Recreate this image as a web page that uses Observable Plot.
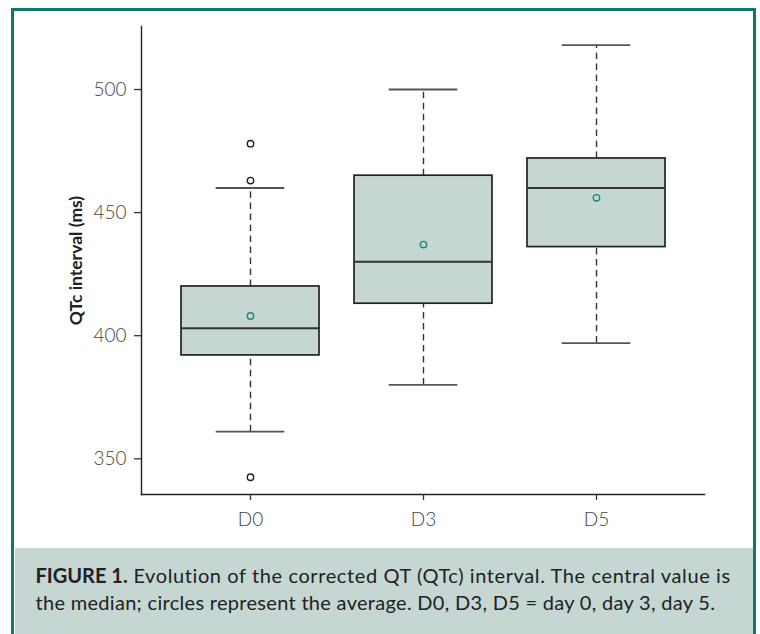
<!DOCTYPE html>
<html>
<head>
<meta charset="utf-8">
<script src="https://cdn.jsdelivr.net/npm/d3@7"></script>
<script src="https://cdn.jsdelivr.net/npm/@observablehq/plot@0.6"></script>
<style>
  html, body { margin: 0; padding: 0; background: #fff; }
  body { width: 760px; height: 634px; overflow: hidden; position: relative; }
  #frame { position: absolute; left: 11px; top: 8px; width: 745px; height: 700px;
           border: 3.5px solid #0d7a69; box-sizing: border-box; }
  #chart { position: absolute; left: 0; top: 0; }
  #caption { position: absolute; left: 14.5px; top: 548px; width: 738px; height: 100px;
             background: #c5d6d3; box-sizing: border-box; padding: 14px 0 0 21px;
             font-family: Lato, sans-serif; font-size: 20px; letter-spacing: 0.6px; line-height: 27px; color: #222; white-space: nowrap; }
  #caption b { font-weight: 700; letter-spacing: 0; }
  #caption .l2 { letter-spacing: 0.3px; }
  g[aria-label="y-axis tick label"] text, g[aria-label="x-axis tick label"] text { font-weight: 300; fill: #444; }
</style>
</head>
<body>
<div id="frame"></div>
<div id="chart"></div>
<div id="caption"><b>FIGURE 1.</b> Evolution of the corrected QT (QTc) interval. The central value is<br><span class="l2">the median; circles represent the average. D0, D3, D5 = day 0, day 3, day 5.</span></div>
<script>
const days = ["D0", "D3", "D5"];
const lowerWhisker = [361, 380, 397];
const q1 = [392, 413, 436];
const median = [403, 430, 460];
const q3 = [420, 465, 472];
const upperWhisker = [460, 500, 518];
const mean = [408, 437, 456];
const outlierDay = ["D0", "D0", "D0"];
const outlierValue = [478, 463, 342.5];
const yTicks = [350, 400, 450, 500];
const yLabel = "QTc interval (ms)";

const stats = days.map((d, i) => ({
  day: d, lo: lowerWhisker[i], q1: q1[i], med: median[i], q3: q3[i], hi: upperWhisker[i], mean: mean[i]
}));
const outliers = outlierDay.map((d, i) => ({day: d, v: outlierValue[i]}));

const chart = Plot.plot({
  width: 760,
  height: 548,
  marginTop: 26,
  marginBottom: 54,
  marginLeft: 141,
  marginRight: 56,
  style: {fontFamily: "Lato, sans-serif", fontSize: "19px", color: "#444", background: "transparent"},
  x: {type: "band", domain: days, range: [163.3, 683.5], paddingInner: 0.2, paddingOuter: 0.1},
  y: {domain: [335.5, 525.6]},
  marks: [
    Plot.frame({anchor: "left", stroke: "#222", strokeWidth: 1.4}),
    Plot.frame({anchor: "bottom", stroke: "#222", strokeWidth: 1.4}),
    Plot.axisY({ticks: yTicks, tickSize: 7, tickPadding: 8, stroke: "#333", strokeWidth: 1.3, strokeOpacity: 1, label: null}),
    Plot.axisX({tickSize: 6, tickPadding: 12, stroke: "#333", strokeWidth: 1.3, strokeOpacity: 1, label: null}),
    Plot.text([yLabel], {frameAnchor: "left", textAnchor: "middle", rotate: -90, dx: -65, fontSize: 17.5, fontWeight: 700, fill: "#222"}),
    Plot.ruleX(stats, {x: "day", y1: "q3", y2: "hi", stroke: "#333", strokeWidth: 1.4, strokeDasharray: "6.5,4.5"}),
    Plot.ruleX(stats, {x: "day", y1: "lo", y2: "q1", stroke: "#333", strokeWidth: 1.4, strokeDasharray: "6.5,4.5"}),
    Plot.barY(stats, {x: "day", y1: "q1", y2: "q3", fill: "#c5d6d3", stroke: "#222", strokeWidth: 1.7}),
    Plot.tickY(stats, {x: "day", y: "med", stroke: "#333", strokeWidth: 2}),
    Plot.tickY(stats, {x: "day", y: "hi", stroke: "#555", strokeWidth: 1.8, insetLeft: 34.7, insetRight: 34.7}),
    Plot.tickY(stats, {x: "day", y: "lo", stroke: "#555", strokeWidth: 1.8, insetLeft: 34.7, insetRight: 34.7}),
    Plot.dot(outliers, {x: "day", y: "v", r: 3.2, stroke: "#222", strokeWidth: 1.4, fill: "#fff"}),
    Plot.dot(stats, {x: "day", y: "mean", r: 3.2, stroke: "#1a8a78", strokeWidth: 1.4, fill: "none"})
  ]
});
document.getElementById("chart").appendChild(chart);
</script>
</body>
</html>
